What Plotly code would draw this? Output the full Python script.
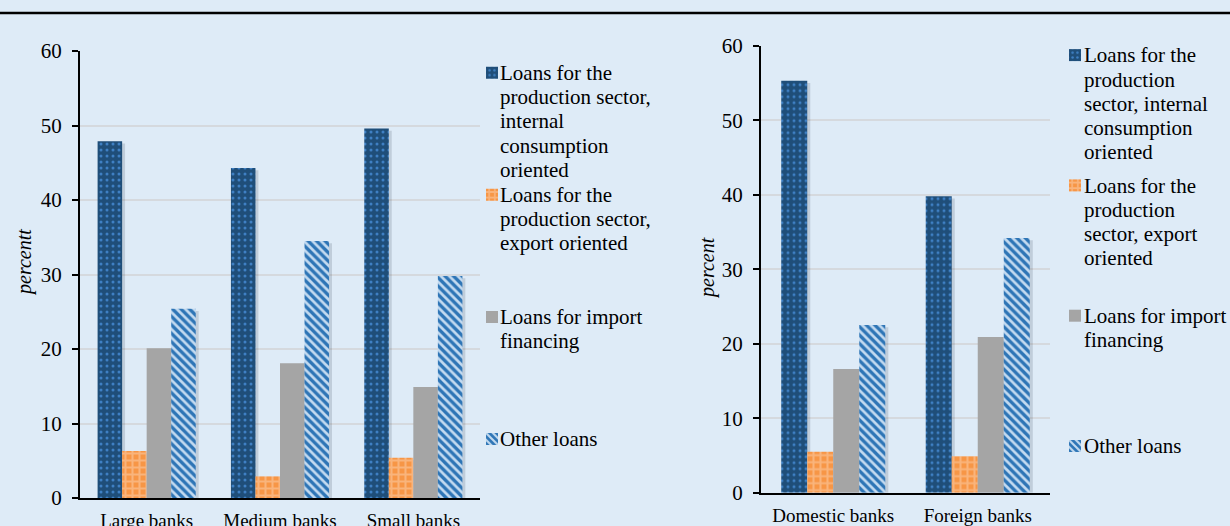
import plotly.graph_objects as go

W, H = 1230, 526
FONT = "Liberation Serif"

# ---------------- data ----------------
cats_left = ["Large banks", "Medium banks", "Small banks"]
cats_right = ["Domestic banks", "Foreign banks"]

internal_left = [47.9, 44.3, 49.6]
export_left = [6.3, 2.9, 5.4]
import_left = [20.1, 18.1, 14.9]
other_left = [25.4, 34.5, 29.8]

internal_right = [55.3, 39.8]
export_right = [5.5, 4.9]
import_right = [16.6, 20.9]
other_right = [22.5, 34.2]

y_ticks = [0, 10, 20, 30, 40, 50, 60]

series_names = [
    "Loans for the production sector, internal consumption oriented",
    "Loans for the production sector, export oriented",
    "Loans for import financing",
    "Other loans",
]
legend_left_lines = [
    ["Loans for the", "production sector,", "internal", "consumption", "oriented"],
    ["Loans for the", "production sector,", "export oriented"],
    ["Loans for import", "financing"],
    ["Other loans"],
]
legend_right_lines = [
    ["Loans for the", "production", "sector, internal", "consumption", "oriented"],
    ["Loans for the", "production", "sector, export", "oriented"],
    ["Loans for import", "financing"],
    ["Other loans"],
]

# ---------------- styles ----------------
styles = [
    dict(color="#1F4E79", pattern=dict(shape=".", fgcolor="#3F80C4", bgcolor="#1F4E79",
                                       size=6, solidity=0.2, fillmode="replace")),
    dict(color="#F79646", pattern=dict(shape="+", fgcolor="#F9B47C", bgcolor="#F79646",
                                       size=7, solidity=0.5, fillmode="replace")),
    dict(color="#A5A5A5"),
    dict(color="#2E75B6", pattern=dict(shape="\\", fgcolor="#C3DAF0", bgcolor="#2E75B6",
                                       size=6, solidity=0.45, fillmode="replace")),
]
SHADOW = "rgba(40,50,70,0.16)"


def px_x(p):
    return p / W


def px_y(p):
    return 1 - p / H


fig = go.Figure()

panels = [
    dict(cats=cats_left, series=[internal_left, export_left, import_left, other_left],
         lines=legend_left_lines, xa="x", ya="y", legend="legend", bar_w=0.184, shadow_dx=0.022,
         gid="L"),
    dict(cats=cats_right, series=[internal_right, export_right, import_right, other_right],
         lines=legend_right_lines, xa="x2", ya="y2", legend="legend2", bar_w=0.18, shadow_dx=0.021,
         gid="R"),
]

# shadows first
for p in panels:
    n = len(p["series"])
    for i, vals in enumerate(p["series"]):
        off = -n * p["bar_w"] / 2 + i * p["bar_w"] + p["shadow_dx"]
        fig.add_trace(go.Bar(
            x=p["cats"], y=[v - 0.3 for v in vals], width=p["bar_w"], offset=off,
            marker=dict(color=SHADOW, line=dict(width=0)), xaxis=p["xa"], yaxis=p["ya"],
            showlegend=False, hoverinfo="skip"))

for p in panels:
    n = len(p["series"])
    for i, vals in enumerate(p["series"]):
        off = -n * p["bar_w"] / 2 + i * p["bar_w"]
        fig.add_trace(go.Bar(
            x=p["cats"], y=vals, width=p["bar_w"], offset=off,
            name=" ", legend=p["legend"], legendgroup=f'{p["gid"]}{i}',
            hovertext=series_names[i],
            marker=dict(line=dict(width=0), **styles[i]), xaxis=p["xa"], yaxis=p["ya"]))

# legend geometry (pixels)
leg_geo = {
    "legend": dict(icon_x=490, text_x=499, first_base=79.3, pitch=122.1),
    "legend2": dict(icon_x=1073, text_x=1082.5, first_base=61.7, pitch=130.3),
}
LINE_PX = 24.3
ITEM_H = 30.3

annotations = []
for p in panels:
    g = leg_geo[p["legend"]]
    for i, lines in enumerate(p["lines"]):
        base0 = g["first_base"] + i * g["pitch"]
        for k, txt in enumerate(lines):
            b = base0 + k * LINE_PX
            annotations.append(dict(
                text=txt, xref="paper", yref="paper", x=px_x(g["text_x"]), y=px_y(b - 6.5),
                xanchor="left", yanchor="middle", showarrow=False, borderpad=0,
                font=dict(family=FONT, size=21, color="black")))

# axis titles
annotations.append(dict(text="percentt", xref="paper", yref="paper", x=px_x(24), y=px_y(263),
                        textangle=-90, showarrow=False, xanchor="center", yanchor="middle",
                        font=dict(family=FONT, size=20, color="black", style="italic")))
annotations.append(dict(text="percent", xref="paper", yref="paper", x=px_x(707), y=px_y(268),
                        textangle=-90, showarrow=False, xanchor="center", yanchor="middle",
                        font=dict(family=FONT, size=20, color="black", style="italic")))

xaxis_common = dict(type="category", showline=True, linecolor="black", linewidth=2, ticks="",
                    showgrid=False, zeroline=False, automargin=False, fixedrange=True,
                    tickfont=dict(family=FONT, size=19, color="black"), ticklabelstandoff=4)
yaxis_common = dict(range=[0, 60], tickvals=y_ticks, showline=True, linecolor="black", linewidth=2,
                    ticks="outside", ticklen=6, tickwidth=2, tickcolor="black",
                    showgrid=True, gridcolor="#D5D9DE", gridwidth=1.5, zeroline=False,
                    automargin=False, fixedrange=True, ticklabelstandoff=6,
                    tickfont=dict(family=FONT, size=21, color="black"))

legend_common = dict(xanchor="left", yanchor="top", bgcolor="rgba(0,0,0,0)", borderwidth=0,
                     font=dict(family=FONT, size=21, color="black"), valign="middle",
                     itemclick=False, itemdoubleclick=False)

fig.update_layout(
    width=W, height=H, margin=dict(l=0, r=0, t=0, b=0),
    paper_bgcolor="#DEEBF7", plot_bgcolor="#DEEBF7",
    barmode="overlay", showlegend=True,
    xaxis=dict(domain=[px_x(80), px_x(480)], range=[-0.5, 2.5], anchor="y", **xaxis_common),
    yaxis=dict(domain=[px_y(498), px_y(51)], anchor="x", **yaxis_common),
    xaxis2=dict(domain=[px_x(761), px_x(1050)], range=[-0.5, 1.5], anchor="y2", **xaxis_common),
    yaxis2=dict(domain=[px_y(492.7), px_y(45.7)], anchor="x2", **yaxis_common),
    legend=dict(x=px_x(leg_geo["legend"]["icon_x"] - 18),
                y=px_y(leg_geo["legend"]["first_base"] - 6.6 - 5 - ITEM_H / 2),
                tracegroupgap=leg_geo["legend"]["pitch"] - ITEM_H, **legend_common),
    legend2=dict(x=px_x(leg_geo["legend2"]["icon_x"] - 18),
                 y=px_y(leg_geo["legend2"]["first_base"] - 6.6 - 5 - ITEM_H / 2),
                 tracegroupgap=leg_geo["legend2"]["pitch"] - ITEM_H, **legend_common),
    annotations=annotations,
    shapes=[dict(type="line", xref="paper", yref="paper", x0=0, x1=1, y0=px_y(13), y1=px_y(13),
                 line=dict(color="black", width=2.5))],
    hovermode=False,
)

fig.write_html("out.html")
